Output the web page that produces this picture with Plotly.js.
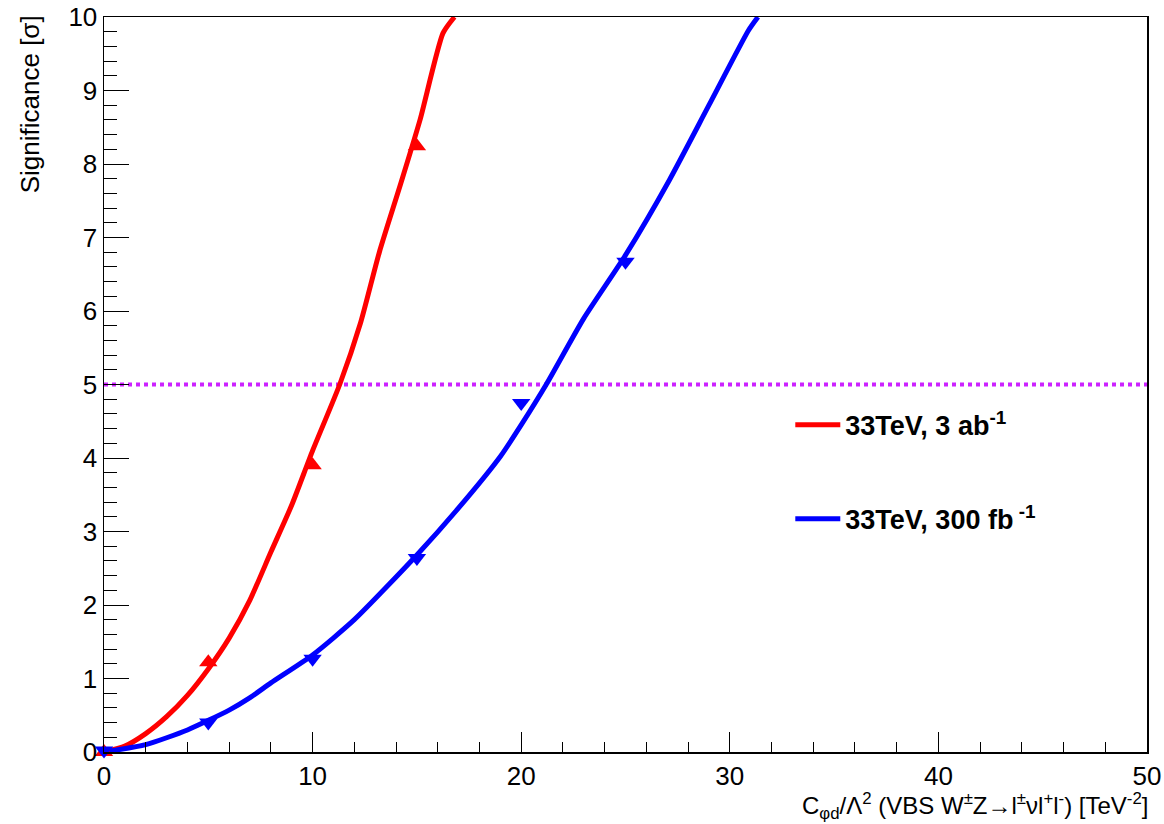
<!DOCTYPE html>
<html><head><meta charset="utf-8">
<script src="https://cdn.plot.ly/plotly-3.0.1.min.js"></script>
<style>body{margin:0;background:#fff}#c{width:1164px;height:824px}</style>
</head><body><div id="c"></div>
<script>
// Markers (simulated points)
const redPtsX = [0, 5, 10, 15];
const redPtsY = [0, 1.22, 3.90, 8.24];
const bluePtsX = [0, 5, 10, 15, 20, 25];
const bluePtsY = [0.02, 0.40, 1.27, 2.64, 4.75, 6.67];
// Fit curves
const redFitX = [0, 1, 2, 3, 4, 5, 6, 7, 8, 9, 10, 11.3, 12.3, 13.2, 14.2, 15.15, 16.25, 16.8];
const redFitY = [0, 0.08, 0.25, 0.48, 0.77, 1.13, 1.55, 2.07, 2.72, 3.36, 4.1, 5.0, 5.84, 6.8, 7.71, 8.6, 9.78, 10];
const blueFitX = [0, 2, 4, 6, 7, 8, 10, 12, 15, 17, 19, 20, 21.2, 23, 25, 27.1, 29, 30.9, 31.35];
const blueFitY = [0, 0.1, 0.3, 0.57, 0.74, 0.94, 1.32, 1.8, 2.68, 3.32, 4.02, 4.45, 5.0, 5.9, 6.76, 7.78, 8.8, 9.82, 10];
const refLineX = [0, 50];
const refLineY = [5, 5];
const legendNames = ['33TeV, 3 ab<sup>-1</sup>', '33TeV, 300 fb<sup> -1</sup>'];

const F = 'Liberation Sans, Arial, Helvetica, sans-serif';
const traces = [
  {x: refLineX, y: refLineY, mode: 'lines', line: {color: '#cc22ff', width: 4, dash: 'dot'}, showlegend: false},
  {x: redFitX, y: redFitY, mode: 'lines', line: {color: '#ff0000', width: 5, shape: 'spline', smoothing: 0.6}, name: legendNames[0], legendgroup: 'a', showlegend: true},
  {x: blueFitX, y: blueFitY, mode: 'lines', line: {color: '#0000ff', width: 5, shape: 'spline', smoothing: 0.6}, name: legendNames[1], legendgroup: 'b', showlegend: true},
  {x: redPtsX, y: redPtsY, mode: 'markers', marker: {symbol: 'triangle-up', size: 16, color: '#ff0000'}, showlegend: false, cliponaxis: false},
  {x: bluePtsX, y: bluePtsY, mode: 'markers', marker: {symbol: 'triangle-down', size: 16, color: '#0000ff'}, showlegend: false, cliponaxis: false}
];
const layout = {
  width: 1164, height: 824,
  margin: {l: 104, r: 17, t: 17, b: 72},
  paper_bgcolor: '#fff', plot_bgcolor: '#fff',
  font: {family: F, size: 26, color: '#000'},
  showlegend: true,
  legend: {x: 0.658, y: 0.478, xanchor: 'left', yanchor: 'top', bgcolor: 'rgba(0,0,0,0)', traceorder: 'grouped',
           font: {family: F, size: 27, color: '#000', weight: 'bold'}, tracegroupgap: 56, itemwidth: 45},
  xaxis: {range: [0, 50], showgrid: false, zeroline: false, showline: true, linecolor: '#000', linewidth: 1.5, mirror: true,
          ticks: 'inside', ticklen: 20, tickcolor: '#000', dtick: 10, tick0: 0,
          minor: {dtick: 2, ticks: 'inside', ticklen: 10, tickcolor: '#000', showgrid: false},
          tickfont: {family: F, size: 26}},
  yaxis: {range: [0, 10], showgrid: false, zeroline: false, showline: true, linecolor: '#000', linewidth: 1.5, mirror: true,
          ticks: 'inside', ticklen: 25, tickcolor: '#000', dtick: 1, tick0: 0,
          minor: {dtick: 0.2, ticks: 'inside', ticklen: 13, tickcolor: '#000', showgrid: false},
          tickfont: {family: F, size: 26}},
  annotations: [
    {text: 'C<sub>φd</sub>/Λ<sup>2</sup> (VBS W<sup>±</sup>Z→l<sup>±</sup>νl<sup>+</sup>l<sup>-</sup>) [TeV<sup>-2</sup>]',
     xref: 'paper', yref: 'paper', x: 1.003, y: -0.047, xanchor: 'right', yanchor: 'top', showarrow: false,
     font: {family: F, size: 24}},
    {text: 'Significance [σ]', xref: 'paper', yref: 'paper', x: -0.071, y: 1.005, xanchor: 'center', yanchor: 'top',
     textangle: -90, showarrow: false, font: {family: F, size: 26}}
  ]
};
Plotly.newPlot('c', traces, layout, {displayModeBar: false, staticPlot: true});
</script></body></html>
